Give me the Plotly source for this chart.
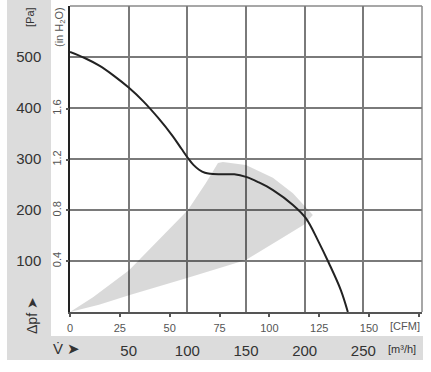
import plotly.graph_objects as go

# ---- data (m3/h, Pa) ----
curve_flow = [0, 12.5, 25, 37.5, 50, 62.5, 75, 87.5, 95, 100.5, 105, 110, 115, 120, 130, 140, 150, 161, 173, 190, 201, 212, 220.6, 230.8, 236.8]
curve_dp = [510, 498, 483, 463, 440, 413, 381, 345, 320, 302, 289, 279, 273, 271, 270, 270, 265, 254, 239, 210, 184, 137, 96, 43, 0]

range_flow = [0, 19.6, 50.3, 75.8, 100.5, 115.8, 126.1, 130.3, 149.9, 172.9, 190.0, 207.0, 199.3, 178.0, 149.9, 100.5, 50.3, 24.7, 0]
range_dp = [0, 29, 82, 141, 200, 253, 292, 294, 288, 263, 233, 190, 171, 141, 102, 67, 33, 14, 0]

pa_ticks = [100, 200, 300, 400, 500]
inh2o_ticks = [0.4, 0.8, 1.2, 1.6]
m3h_ticks = [50, 100, 150, 200, 250]
cfm_ticks = [0, 25, 50, 75, 100, 125, 150, 175]
cfm_labels = ["0", "25", "50", "75", "100", "125", "150", ""]

FLOW_MAX = 300
DP_MAX = 600
M3H_PER_CFM = 1.699
PA_PER_INH2O = 249.09

# plot area in pixels
L, R, T, B = 70, 422, 6, 312
W, H = 431, 372


def px(x):
    return (x - L) / (R - L)


def py(y):
    return (B - y) / (B - T)


FONT = "Liberation Sans, Arial, sans-serif"

fig = go.Figure()
fig.add_trace(go.Scatter(x=range_flow, y=range_dp, mode="lines", fill="toself",
                         fillcolor="rgba(0,0,0,0.15)", line=dict(width=0),
                         hoverinfo="skip", showlegend=False))
fig.add_trace(go.Scatter(x=curve_flow, y=curve_dp, mode="lines",
                         line=dict(color="#222222", width=2, shape="spline", smoothing=1),
                         showlegend=False))
fig.add_trace(go.Scatter(x=[None], y=[None], xaxis="x2", yaxis="y2", showlegend=False))

fig.update_layout(
    width=W, height=H,
    margin=dict(l=L, r=W - R, t=T, b=H - B),
    paper_bgcolor="white", plot_bgcolor="white",
    font=dict(family=FONT, color="#333333"),
    xaxis=dict(range=[0, FLOW_MAX], tickvals=m3h_ticks, ticktext=[str(v) for v in m3h_ticks],
               showgrid=True, gridcolor="#7a7a7a", gridwidth=1.5, zeroline=False, automargin=False,
               showline=True, linecolor="#555555", linewidth=2, ticks="",
               ticklabelstandoff=24, tickfont=dict(size=15, color="#333333")),
    yaxis=dict(range=[0, DP_MAX], tickvals=pa_ticks, ticktext=[str(v) for v in pa_ticks],
               showgrid=True, gridcolor="#7a7a7a", gridwidth=1.5, zeroline=False, automargin=False,
               showline=True, linecolor="#222222", linewidth=1.5, ticks="",
               ticklabelstandoff=24, tickfont=dict(size=15, color="#333333")),
    xaxis2=dict(overlaying="x", side="bottom", range=[0, FLOW_MAX / M3H_PER_CFM],
                tickvals=cfm_ticks, ticktext=cfm_labels, showgrid=False, zeroline=False,
                showline=False, ticks="outside", ticklen=4, tickcolor="#555555", tickwidth=1.5,
                automargin=False, ticklabelstandoff=2, tickfont=dict(size=11, color="#555555")),
    yaxis2=dict(overlaying="y", side="left", range=[0, DP_MAX / PA_PER_INH2O],
                tickvals=inh2o_ticks, ticktext=[str(v) for v in inh2o_ticks], showgrid=False,
                zeroline=False, showline=False, ticks="outside", ticklen=3, tickcolor="#555555",
                tickwidth=1.5, tickangle=-90, ticklabelstandoff=1, automargin=False,
                tickfont=dict(size=11, color="#555555")),
    shapes=[
        dict(type="rect", xref="paper", yref="paper", x0=px(7), x1=px(51), y0=py(0), y1=py(336),
             fillcolor="#dcdcdc", line=dict(width=0), layer="below"),
        dict(type="rect", xref="paper", yref="paper", x0=px(7), x1=px(423), y0=py(336), y1=py(360),
             fillcolor="#dcdcdc", line=dict(width=0), layer="below"),
        dict(type="line", xref="paper", yref="paper", x0=0, x1=1, y0=1, y1=1,
             line=dict(color="#8a8a8a", width=1.5), layer="below"),
        dict(type="line", xref="paper", yref="paper", x0=1, x1=1, y0=0, y1=1,
             line=dict(color="#8a8a8a", width=1.5), layer="below"),
    ],
)

ann = [
    dict(text="[Pa]", x=px(30), y=py(17), size=11, color="#333333", angle=-90),
    dict(text="(in H<sub>2</sub>O)", x=px(60), y=py(27), size=11, color="#555555", angle=-90),
    dict(text="Δpf ➤", x=px(32), y=py(316), size=14, color="#333333", angle=-90),
    dict(text="V\u0307 ➤", x=px(66), y=py(348), size=15, color="#333333", angle=0),
    dict(text="[CFM]", x=px(405), y=py(326), size=11, color="#555555", angle=0),
    dict(text="[m³/h]", x=px(402), y=py(349), size=11, color="#333333", angle=0),
]
for a in ann:
    fig.add_annotation(text=a["text"], x=a["x"], y=a["y"], xref="paper", yref="paper",
                       showarrow=False, textangle=a["angle"], xanchor="center", yanchor="middle",
                       font=dict(size=a["size"], color=a["color"], family=FONT))

fig.write_html("out.html", config={"displayModeBar": False},
               post_script="document.body.style.margin='0';document.body.style.padding='0';")
